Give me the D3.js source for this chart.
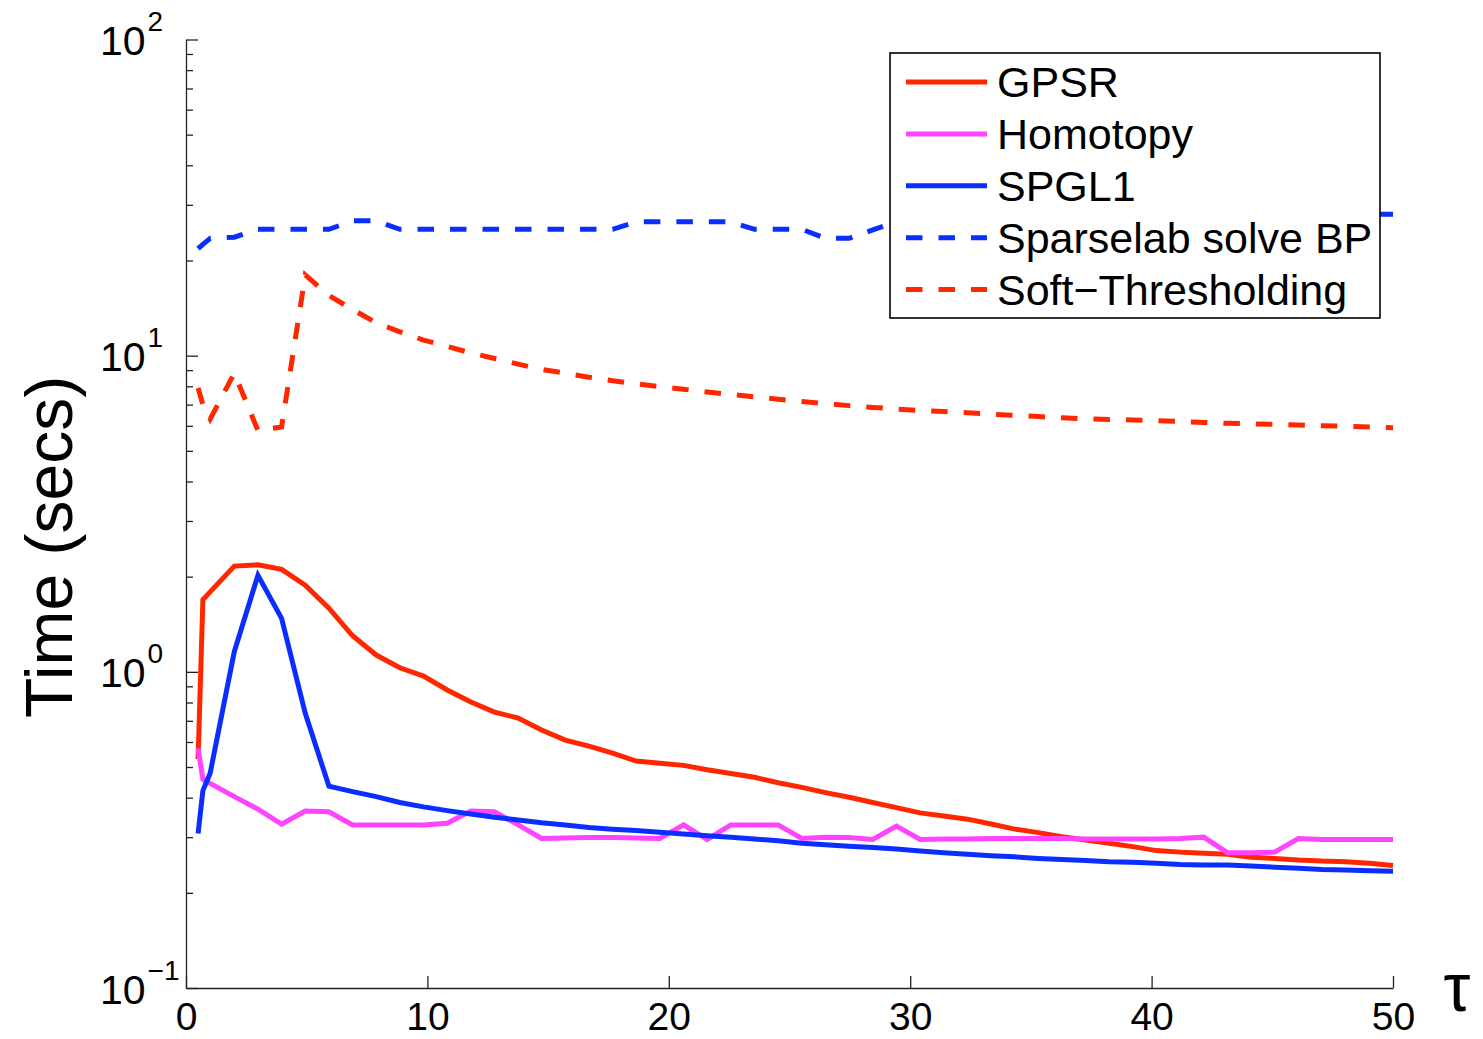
<!DOCTYPE html>
<html>
<head>
<meta charset="utf-8">
<title>Time vs tau</title>
<script src="https://cdnjs.cloudflare.com/ajax/libs/d3/7.8.5/d3.min.js"></script>
<style>
body{margin:0;background:#fff;}
svg{display:block;font-family:"Liberation Sans",Arial,Helvetica,sans-serif;}
</style>
</head>
<body>
<svg id="chart" width="1483" height="1039"></svg>
<script>
// tau grid (x values)
var tau = [0.5, 0.7, 1, 2, 2.98, 3.96, 4.94, 5.92, 6.9, 7.88, 8.86, 9.84, 10.82, 11.8, 12.78, 13.76, 14.73, 15.71, 16.69, 17.67,
  18.65, 19.63, 20.61, 21.59, 22.57, 23.55, 24.53, 25.51, 26.49, 27.47, 28.45, 29.43, 30.41, 31.39, 32.37, 33.35, 34.33, 35.31,
  36.29, 37.27, 38.24, 39.22, 40.2, 41.18, 42.16, 43.14, 44.12, 45.1, 46.08, 47.06, 48.04, 49.02, 50];

var gpsr = [0.53, 1.69, 1.79, 2.16, 2.18, 2.11, 1.88, 1.59, 1.30, 1.13, 1.03, 0.97, 0.876, 0.803, 0.746, 0.714, 0.655, 0.608, 0.582, 0.553,
  0.522, 0.514, 0.506, 0.49, 0.477, 0.464, 0.446, 0.431, 0.415, 0.401, 0.386, 0.372, 0.358, 0.350, 0.342, 0.330, 0.318, 0.310,
  0.301, 0.294, 0.287, 0.280, 0.272, 0.269, 0.267, 0.265, 0.259, 0.257, 0.254, 0.252, 0.251, 0.248, 0.244];

var homotopy = [0.573, 0.457, 0.444, 0.403, 0.368, 0.330, 0.363, 0.361, 0.328, 0.328, 0.328, 0.328, 0.332, 0.363, 0.361, 0.328, 0.297, 0.298, 0.299, 0.299,
  0.298, 0.297, 0.328, 0.295, 0.328, 0.328, 0.328, 0.297, 0.300, 0.299, 0.295, 0.325, 0.295, 0.296, 0.296, 0.297, 0.297, 0.297,
  0.297, 0.296, 0.296, 0.296, 0.296, 0.297, 0.300, 0.268, 0.268, 0.269, 0.297, 0.295, 0.295, 0.295, 0.295];

var spgl1 = [0.308, 0.421, 0.478, 1.158, 2.02, 1.476, 0.739, 0.435, 0.418, 0.403, 0.386, 0.374, 0.364, 0.355, 0.347, 0.340, 0.333, 0.328, 0.322, 0.318,
  0.315, 0.311, 0.307, 0.303, 0.300, 0.296, 0.292, 0.287, 0.284, 0.281, 0.278, 0.275, 0.271, 0.268, 0.265, 0.262, 0.260, 0.257,
  0.255, 0.253, 0.251, 0.250, 0.248, 0.246, 0.245, 0.245, 0.243, 0.241, 0.239, 0.237, 0.236, 0.235, 0.234];

var sparselab = [21.8, 22.5, 23.5, 23.7, 25.1, 25.1, 25.1, 25.1, 26.7, 26.7, 25.1, 25.1, 25.1, 25.1, 25.1, 25.1, 25.1, 25.1, 25.1, 25.1,
  26.5, 26.5, 26.5, 26.5, 26.5, 25.1, 25.1, 25.1, 23.5, 23.5, 25.0, 26.5, 26.5, 26.5, 25.1, 25.1, 25.1, 26.5,
  26.5, 26.5, 26.5, 25.1, 25.1, 25.1, 26.5, 26.5, 26.5, 26.5, 26.5, 28.0, 28.0, 28.0, 28.0];

var softThr = [7.9, 7.0, 6.3, 8.8, 5.8, 5.95, 18.0, 15.5, 14.0, 12.7, 11.9, 11.2, 10.7, 10.2, 9.8, 9.4, 9.05, 8.8, 8.55, 8.33,
  8.15, 7.98, 7.83, 7.67, 7.54, 7.41, 7.28, 7.16, 7.05, 6.95, 6.86, 6.78, 6.71, 6.66, 6.6, 6.53, 6.48, 6.42,
  6.36, 6.31, 6.28, 6.26, 6.23, 6.19, 6.15, 6.11, 6.09, 6.06, 6.03, 6.0, 5.98, 5.95, 5.92];

var seriesNames = ["GPSR", "Homotopy", "SPGL1", "Sparselab solve BP", "Soft\u2212Thresholding"];
var xTicks = [0, 10, 20, 30, 40, 50];
var yTicks = [0.1, 1, 10, 100];
var yExponents = ["\u22121", "0", "1", "2"];

var series = [
  {name: seriesNames[0], values: gpsr, color: "#ff2600", dash: null},
  {name: seriesNames[1], values: homotopy, color: "#ff44ff", dash: null},
  {name: seriesNames[2], values: spgl1, color: "#0a2eff", dash: null},
  {name: seriesNames[3], values: sparselab, color: "#0a2eff", dash: "16.5,16"},
  {name: seriesNames[4], values: softThr, color: "#ff2600", dash: "16.5,16"}
];

var svg = d3.select("#chart");
var x = d3.scaleLinear().domain([0, 50]).range([186, 1393]);
var y = d3.scaleLog().domain([0.1, 100]).range([988, 39.5]);

// minor ticks of the log axis
var minor = [];
yTicks.slice(0, 3).forEach(function(d){ for (var k = 2; k <= 9; k++) minor.push(d * k); });

svg.append("g").attr("transform", "translate(186,0)")
  .call(d3.axisLeft(y).tickValues(minor).tickSize(-7).tickFormat(""))
  .call(function(g){ g.select(".domain").remove(); })
  .selectAll("line").attr("stroke", "#222").attr("stroke-width", 1.3);

var yAxis = svg.append("g").attr("transform", "translate(186,0)")
  .call(d3.axisLeft(y).tickValues(yTicks).tickSize(-12).tickSizeOuter(0).tickFormat(""));
yAxis.selectAll("line,path").attr("stroke", "#222").attr("stroke-width", 1.3);

var xAxis = svg.append("g").attr("transform", "translate(0,988)")
  .call(d3.axisBottom(x).tickValues(xTicks).tickSize(-12).tickSizeOuter(0).tickPadding(14));
xAxis.selectAll("line,path").attr("stroke", "#222").attr("stroke-width", 1.3);
xAxis.attr("font-size", 39).attr("font-family", null);
xAxis.selectAll("text").attr("fill", "#000");

// y tick labels 10^k
var yl = svg.append("g").attr("font-size", 41).attr("fill", "#000");
yTicks.forEach(function(d, i){
  var t = yl.append("text").attr("x", 100).attr("y", y(d) + 15.5);
  t.append("tspan").text("10");
  t.append("tspan").attr("dx", 2).attr("dy", -24).attr("font-size", 28).text(yExponents[i]);
});

// axis labels
svg.append("text")
  .attr("transform", "translate(72,547) rotate(-90)")
  .attr("text-anchor", "middle")
  .attr("font-size", 66)
  .text("Time (secs)");

svg.append("text")
  .attr("x", 1457).attr("y", 1011)
  .attr("text-anchor", "middle")
  .attr("font-size", 68)
  .text("\u03c4");

// lines
var line = d3.line()
  .x(function(d){ return x(d[0]); })
  .y(function(d){ return y(d[1]); });

series.forEach(function(s){
  svg.append("path")
    .datum(tau.map(function(t, i){ return [t, s.values[i]]; }))
    .attr("d", line)
    .attr("fill", "none")
    .attr("stroke", s.color)
    .attr("stroke-width", 5)
    .attr("stroke-dasharray", s.dash);
});

// legend
var legend = svg.append("g");
legend.append("rect")
  .attr("x", 890).attr("y", 53).attr("width", 490).attr("height", 265)
  .attr("fill", "#fff").attr("stroke", "#000").attr("stroke-width", 1.6);

series.forEach(function(s, i){
  var ly = 82 + i * 51.9;
  legend.append("line")
    .attr("x1", 906).attr("x2", 987).attr("y1", ly).attr("y2", ly)
    .attr("stroke", s.color).attr("stroke-width", 5)
    .attr("stroke-dasharray", s.dash);
  legend.append("text")
    .attr("x", 997).attr("y", ly).attr("dy", "0.36em")
    .attr("font-size", 43)
    .text(s.name);
});
</script>
</body>
</html>
